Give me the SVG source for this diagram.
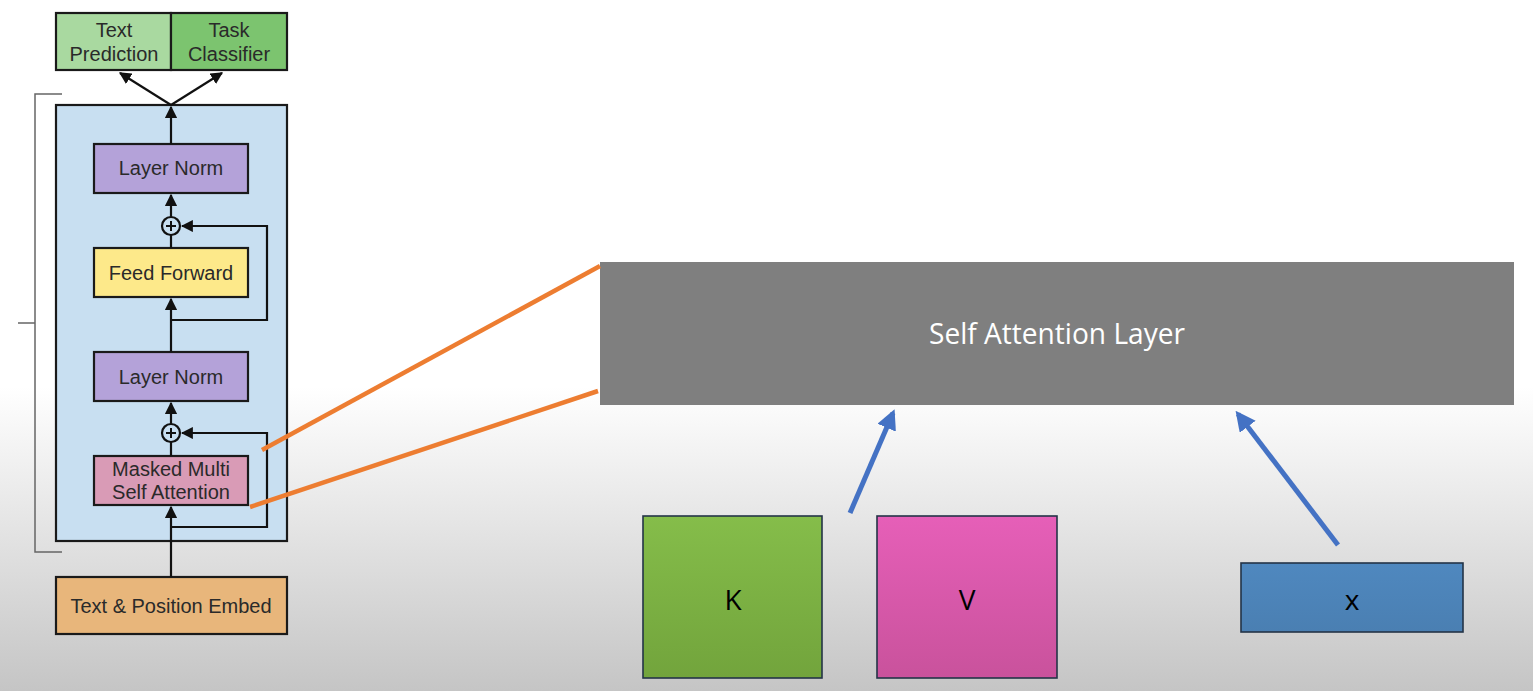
<svg xmlns="http://www.w3.org/2000/svg" width="1533" height="691" viewBox="0 0 1533 691">
<defs>
<linearGradient id="bg" x1="0" y1="0" x2="0" y2="1">
<stop offset="0" stop-color="#ffffff"/>
<stop offset="0.56" stop-color="#ffffff"/>
<stop offset="1" stop-color="#c5c5c5"/>
</linearGradient>
<linearGradient id="gK" x1="0" y1="0" x2="0" y2="1">
<stop offset="0" stop-color="#85bd4a"/>
<stop offset="1" stop-color="#72a43c"/>
</linearGradient>
<linearGradient id="gV" x1="0" y1="0" x2="0" y2="1">
<stop offset="0" stop-color="#e65fb8"/>
<stop offset="1" stop-color="#c9529c"/>
</linearGradient>
<linearGradient id="gX" x1="0" y1="0" x2="0" y2="1">
<stop offset="0" stop-color="#4f88bf"/>
<stop offset="1" stop-color="#4a7fb2"/>
</linearGradient>
<marker id="ah" viewBox="0 0 10 10" refX="9" refY="5" markerWidth="5.5" markerHeight="5.5" orient="auto" markerUnits="strokeWidth">
<path d="M0,0 L10,5 L0,10 z" fill="#111"/>
</marker>
<marker id="bh" viewBox="0 0 10 10" refX="8" refY="5" markerWidth="4" markerHeight="4" orient="auto" markerUnits="strokeWidth">
<path d="M0,0 L10,5 L0,10 z" fill="#4472c4"/>
</marker>
<style>
.box{stroke:#1a1a1a;stroke-width:2.2}
.lt{font-family:"Liberation Sans",Arial,sans-serif;font-size:20px;fill:#2a2a2a;text-anchor:middle}
.ln{stroke:#111;stroke-width:2.2;fill:none}
.br{stroke:#666;stroke-width:1.5;fill:none}
.or{stroke:#ed7d31;stroke-width:4.5;fill:none}
.bl{stroke:#4472c4;stroke-width:5;fill:none}
.sq{stroke:#243447;stroke-width:1.6}
.ct{font-family:"Open Sans","Liberation Sans",sans-serif;font-size:28px;fill:#000;text-anchor:middle}
</style>
</defs>
<rect x="0" y="0" width="1533" height="691" fill="url(#bg)"/>

<g id="bracket">
<path class="br" d="M62,94 H35 V552 H62 M18,323 H35"/>
</g>

<g id="text-prediction">
<rect class="box" x="56" y="13" width="115" height="57" fill="#a9d9a0"/>
<text class="lt" x="114" y="37" font-size="20.5">Text</text>
<text class="lt" x="114" y="61" font-size="20.5">Prediction</text>
</g>
<g id="task-classifier">
<rect class="box" x="171" y="13" width="116" height="57" fill="#7cc46f"/>
<text class="lt" x="229" y="37" font-size="20.5">Task</text>
<text class="lt" x="229" y="61" font-size="20.5">Classifier</text>
</g>

<g id="decoder-block">
<rect class="box" x="56" y="105" width="231" height="436" fill="#c8dff1"/>
</g>

<g id="layer-norm-top">
<rect class="box" x="94" y="144" width="154" height="49" fill="#b4a2d9"/>
<text class="lt" x="171" y="175">Layer Norm</text>
</g>
<g id="add-top">
<circle cx="171" cy="226" r="9" fill="none" stroke="#111" stroke-width="2.2"/>
<path d="M166,226 H176 M171,221 V231" stroke="#111" stroke-width="2"/>
</g>
<g id="feed-forward">
<rect class="box" x="94" y="248" width="154" height="49" fill="#fde98a"/>
<text class="lt" x="171" y="280">Feed Forward</text>
</g>
<g id="layer-norm-bottom">
<rect class="box" x="94" y="352" width="154" height="49" fill="#b4a2d9"/>
<text class="lt" x="171" y="384">Layer Norm</text>
</g>
<g id="add-bottom">
<circle cx="171" cy="433" r="9" fill="none" stroke="#111" stroke-width="2.2"/>
<path d="M166,433 H176 M171,428 V438" stroke="#111" stroke-width="2"/>
</g>
<g id="masked-attention">
<rect class="box" x="94" y="456" width="154" height="49" fill="#d99bb6"/>
<text class="lt" x="171" y="476" font-size="18">Masked Multi</text>
<text class="lt" x="171" y="499" font-size="18.5">Self Attention</text>
</g>
<g id="embed">
<rect class="box" x="56" y="577" width="231" height="57" fill="#e8b67b"/>
<text class="lt" x="171" y="613">Text &amp; Position Embed</text>
</g>

<g id="self-attention-layer">
<rect x="600" y="262" width="914" height="143" fill="#7f7f7f"/>
<text x="1057" y="344" font-family="Open Sans, Liberation Sans, sans-serif" font-size="29" fill="#ffffff" text-anchor="middle" textLength="256" lengthAdjust="spacingAndGlyphs">Self Attention Layer</text>
</g>
<g id="K">
<rect class="sq" x="643" y="516" width="179" height="162" fill="url(#gK)"/>
<text class="ct" x="733" y="610">K</text>
</g>
<g id="V">
<rect class="sq" x="877" y="516" width="180" height="162" fill="url(#gV)"/>
<text class="ct" x="967" y="610">V</text>
</g>
<g id="x">
<rect class="sq" x="1241" y="563" width="222" height="69" fill="url(#gX)"/>
<text class="ct" x="1352" y="610">x</text>
</g>

<g id="connectors">
<path class="ln" d="M171,105 L120,73" marker-end="url(#ah)"/>
<path class="ln" d="M171,105 L222,73" marker-end="url(#ah)"/>
<path class="ln" d="M171,144 V107" marker-end="url(#ah)"/>
<path class="ln" d="M171,217 V195" marker-end="url(#ah)"/>
<path class="ln" d="M171,248 V235"/>
<path class="ln" d="M171,352 V299" marker-end="url(#ah)"/>
<path class="ln" d="M171,320 H267 V226 H182" marker-end="url(#ah)"/>
<path class="ln" d="M171,424 V403" marker-end="url(#ah)"/>
<path class="ln" d="M171,456 V442"/>
<path class="ln" d="M171,577 V507" marker-end="url(#ah)"/>
<path class="ln" d="M171,527 H267 V433 H182" marker-end="url(#ah)"/>
<path class="or" d="M262,450 L600,266"/>
<path class="or" d="M250,507 L598,391"/>
<path class="bl" d="M850,513 L893,413" marker-end="url(#bh)"/>
<path class="bl" d="M1338,545 L1238,414" marker-end="url(#bh)"/>
</g>
</svg>
